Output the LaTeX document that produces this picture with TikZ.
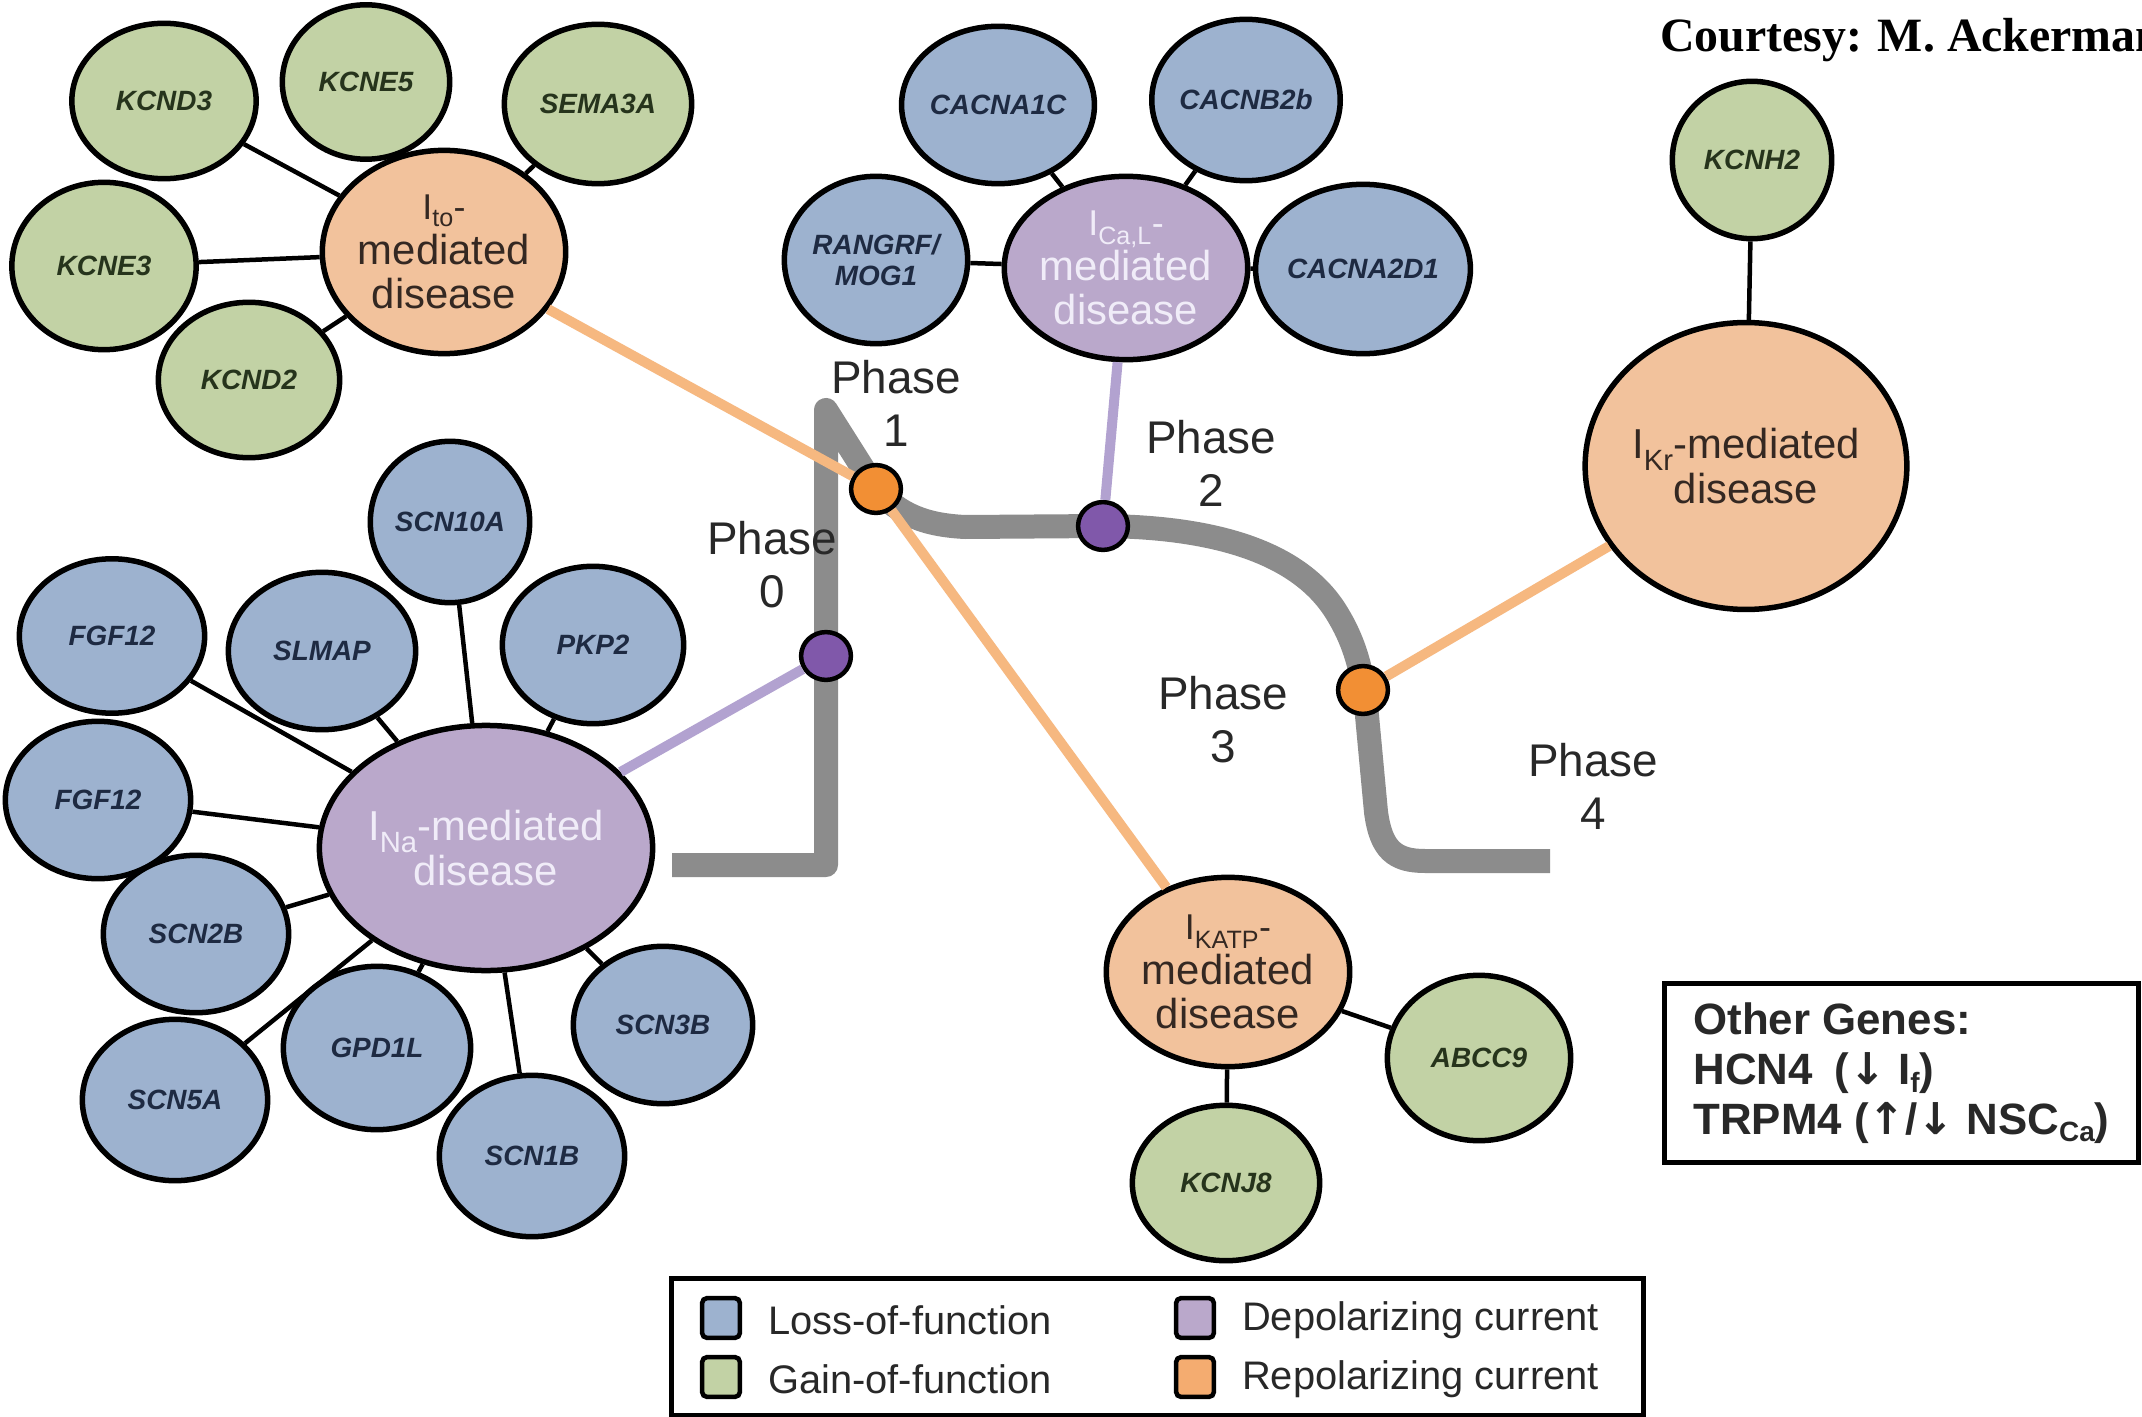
\documentclass[tikz,border=0pt]{standalone}
\usepackage{fontspec}
\setmainfont{Liberation Sans}
\newfontfamily\courtfont{Liberation Serif}
\newfontfamily\arrfont{DejaVu Sans}
\usetikzlibrary{shapes.geometric}
\definecolor{lofblue}{RGB}{157,178,207}
\definecolor{gofgreen}{RGB}{194,210,165}
\definecolor{repor}{RGB}{242,194,156}
\definecolor{depur}{RGB}{186,168,203}
\definecolor{apgray}{RGB}{140,140,140}
\definecolor{orline}{RGB}{246,184,128}
\definecolor{puline}{RGB}{178,162,208}
\definecolor{ordot}{RGB}{242,143,52}
\definecolor{pudot}{RGB}{128,88,170}
\definecolor{legor}{RGB}{244,172,112}
\definecolor{navytxt}{RGB}{30,42,66}
\definecolor{greentxt}{RGB}{38,52,28}
\definecolor{distxt}{RGB}{52,40,34}
\definecolor{lighttxt}{RGB}{240,236,248}
\definecolor{phtxt}{RGB}{40,40,40}
\newcommand\genefont{\fontsize{28}{31}\selectfont\bfseries\itshape}
\newcommand\disfont{\fontsize{42}{45}\selectfont}
\newcommand\firstline{\fontsize{36}{40}\selectfont}
\newcommand\phasefont{\fontsize{46}{53}\selectfont}
\newcommand\legfont{\fontsize{40}{44}\selectfont}
\newcommand\othfont{\fontsize{44}{50}\selectfont\bfseries}
\newcommand\lowsub[1]{\raisebox{-0.18em}{\fontsize{28}{28}\selectfont #1}}
\begin{document}
\begin{tikzpicture}[x=1bp,y=-1bp,
  nd/.style={ellipse, draw=black, line width=5.5bp, inner sep=0pt, align=center},
  lof/.style={nd, fill=lofblue, text=navytxt, font=\genefont},
  gof/.style={nd, fill=gofgreen, text=greentxt, font=\genefont},
  rep/.style={nd, fill=repor, text=distxt, font=\disfont},
  dep/.style={nd, fill=depur, text=lighttxt, font=\disfont},
  conn/.style={draw=black, line width=4.5bp},
  orl/.style={draw=orline, line width=10bp},
  pul/.style={draw=puline, line width=10bp},
  apline/.style={draw=apgray, line width=24bp, line join=round},
  dotor/.style={ellipse, draw=black, line width=4.5bp, fill=ordot, minimum width=50, minimum height=48, inner sep=0pt},
  dotpu/.style={ellipse, draw=black, line width=4.5bp, fill=pudot, minimum width=50, minimum height=48, inner sep=0pt},
  phase/.style={font=\phasefont, align=center, text=phtxt},
  legsq/.style={draw=black, line width=4.5bp, rounded corners=5bp, minimum width=38, minimum height=40, inner sep=0pt},
  legtxt/.style={font=\legfont, anchor=west, text=phtxt, inner sep=0pt},
]
\path[use as bounding box, clip] (0,0) rectangle (2142,1417);
\fill[white] (0,0) rectangle (2142,1417);

% action potential curve
\draw[apline] (672,865) -- (826,865) -- (826,410) -- (876,489)
  .. controls (900,515) and (925,525) .. (965,527) -- (1103,526)
  .. controls (1210,527) and (1300,550) .. (1338,615)
  .. controls (1358,648) and (1363,680) .. (1366,705)
  -- (1376,812) .. controls (1381,850) and (1395,861) .. (1425,861) -- (1550,861);

% I_to cluster
\node[gof, minimum width=185, minimum height=156] (KCND3) at (164,101) {KCND3};
\node[gof, minimum width=168, minimum height=155] (KCNE5) at (366,82) {KCNE5};
\node[gof, minimum width=188, minimum height=160] (SEMA3A) at (598,104) {SEMA3A};
\node[gof, minimum width=185, minimum height=168] (KCNE3) at (104,266) {KCNE3};
\node[gof, minimum width=182, minimum height=156] (KCND2) at (249,380) {KCND2};
\node[rep, minimum width=212, minimum height=204] (Ito) at (444,252) {{\firstline I\textsubscript{to}-}\\mediated\\disease};

% I_CaL cluster
\node[lof, minimum width=187, minimum height=158] (CACNA1C) at (998,105) {CACNA1C};
\node[lof, minimum width=180, minimum height=162] (CACNB2b) at (1246,100) {CACNB2b};
\node[lof, minimum width=184, minimum height=168] (RANGRF) at (876,260) {RANGRF/\\MOG1};
\node[dep, minimum width=226, minimum height=184] (ICaL) at (1126,268) {{\firstline I\textsubscript{Ca,L}-}\\mediated\\disease};
\node[lof, minimum width=186, minimum height=170] (CACNA2D1) at (1363,269) {CACNA2D1};

% I_Kr cluster
\node[gof, minimum width=160, minimum height=158] (KCNH2) at (1752,160) {KCNH2};
\node[rep, minimum width=290, minimum height=288] (IKr) at (1746,466) {I\textsubscript{Kr}-mediated\\disease};

% I_Na cluster
\node[lof, minimum width=160, minimum height=162] (SCN10A) at (450,522) {SCN10A};
\node[lof, minimum width=186, minimum height=155] (FGF12a) at (112,636) {FGF12};
\node[lof, minimum width=188, minimum height=158] (SLMAP) at (322,651) {SLMAP};
\node[lof, minimum width=182, minimum height=158] (PKP2) at (593,645) {PKP2};
\node[lof, minimum width=186, minimum height=158] (FGF12b) at (98,800) {FGF12};
\node[dep, minimum width=316, minimum height=246] (INa) at (486,848) {I\textsubscript{Na}-mediated\\disease};
\node[lof, minimum width=186, minimum height=158] (SCN2B) at (196,934) {SCN2B};
\node[lof, minimum width=188, minimum height=164] (GPD1L) at (377,1048) {GPD1L};
\node[lof, minimum width=186, minimum height=162] (SCN5A) at (175,1100) {SCN5A};
\node[lof, minimum width=186, minimum height=162] (SCN1B) at (532,1156) {SCN1B};
\node[lof, minimum width=180, minimum height=158] (SCN3B) at (663,1025) {SCN3B};

% I_KATP cluster
\node[rep, minimum width=218, minimum height=190] (IKATP) at (1228,972) {{\firstline I\textsubscript{KATP}-}\\mediated\\disease};
\node[gof, minimum width=184, minimum height=166] (ABCC9) at (1479,1058) {ABCC9};
\node[gof, minimum width=188, minimum height=156] (KCNJ8) at (1226,1183) {KCNJ8};

% phase dots
\node[dotpu] (ph0) at (826,656) {};
\node[dotor] (ph1) at (876,489) {};
\node[dotpu] (ph2) at (1103,526) {};
\node[dotor] (ph3) at (1363,690) {};

% phase labels
\node[phase] (lab1) at (896,403) {Phase\\1};
\node[phase] (lab2) at (1211,463) {Phase\\2};
\node[phase] (lab0) at (772,565) {Phase\\0};
\node[phase] (lab3) at (1223,720) {Phase\\3};
\node[phase] (lab4) at (1593,786) {Phase\\4};

% black connectors
\foreach \g in {KCND3,KCNE5,SEMA3A,KCNE3,KCND2} \draw[conn] (\g) -- (Ito);
\foreach \g in {CACNA1C,CACNB2b,RANGRF,CACNA2D1} \draw[conn] (\g) -- (ICaL);
\draw[conn] (KCNH2) -- (IKr);
\foreach \g in {SCN10A,FGF12a,SLMAP,PKP2,FGF12b,SCN2B,GPD1L,SCN5A,SCN1B,SCN3B} \draw[conn] (\g) -- (INa);
\foreach \g in {ABCC9,KCNJ8} \draw[conn] (\g) -- (IKATP);

% current connectors
\draw[orl] (Ito) -- (ph1);
\draw[orl] (ph1) -- (IKATP);
\draw[orl] (ph3) -- (IKr);
\draw[pul] (INa) -- (ph0);
\draw[pul] (ICaL) -- (ph2);

% courtesy
\node[anchor=base west, inner sep=0pt, font=\courtfont\bfseries\fontsize{48}{52}\selectfont] (court) at (1660,52) {Courtesy: M. Ackerman};

% other genes box
\node[draw=black, line width=4.5bp, anchor=north west, minimum width=476, minimum height=180, align=left, font=\othfont, text=phtxt] (other) at (1662,981)
  {Other Genes:\\HCN4\enspace ({\arrfont\bfseries ↓} I\lowsub{f})\\TRPM4 ({\arrfont\bfseries ↑}/{\arrfont\bfseries ↓} NSC\lowsub{Ca})};

% legend
\node[draw=black, line width=4.5bp, anchor=north west, minimum width=976, minimum height=138] (legbox) at (669,1276) {};
\node[legsq, fill=lofblue] (sq1) at (721,1318) {};
\node[legsq, fill=gofgreen] (sq2) at (721,1377) {};
\node[legsq, fill=depur] (sq3) at (1195,1318) {};
\node[legsq, fill=legor] (sq4) at (1195,1377) {};
\node[legtxt] (lt1) at (768,1320) {Loss-of-function};
\node[legtxt] (lt2) at (768,1379) {Gain-of-function};
\node[legtxt] (lt3) at (1242,1320) {Depolarizing current};
\node[legtxt] (lt4) at (1242,1379) {Repolarizing current};
\end{tikzpicture}
\end{document}
